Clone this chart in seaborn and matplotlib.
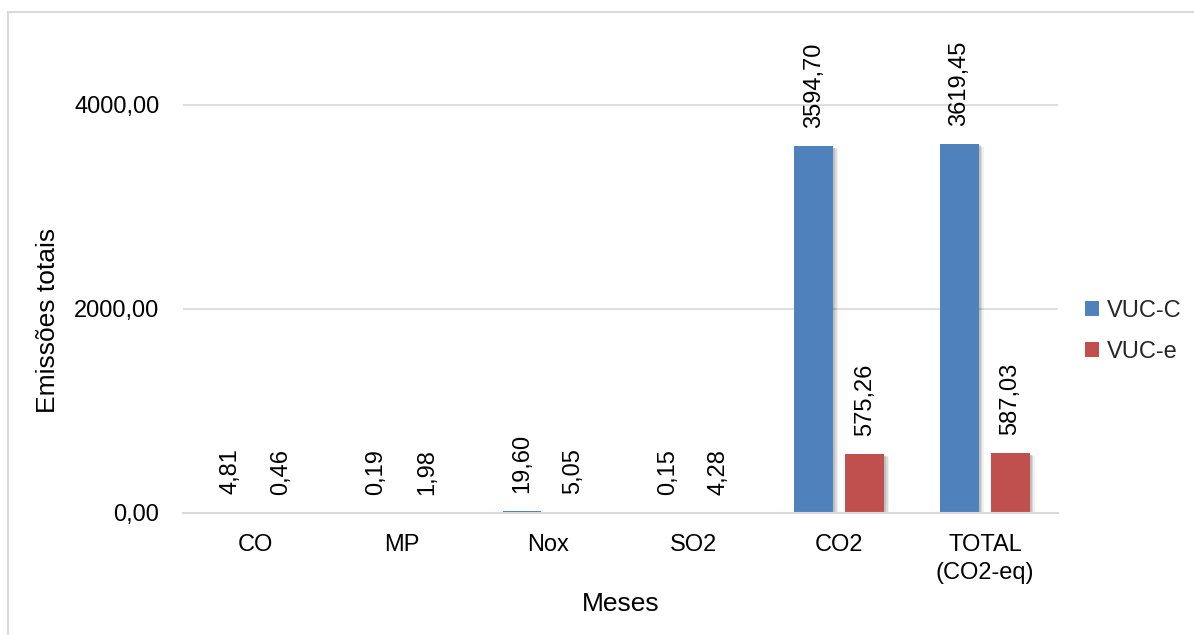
import matplotlib
matplotlib.use("Agg")
import matplotlib.pyplot as plt
import matplotlib.patheffects as pe
from matplotlib.patches import Rectangle
import seaborn as sns
import pandas as pd

categories = ["CO", "MP", "Nox", "SO2", "CO2", "TOTAL\n(CO2-eq)"]
series_names = ["VUC-C", "VUC-e"]
vuc_c = [4.81, 0.19, 19.60, 0.15, 3594.70, 3619.45]
vuc_e = [0.46, 1.98, 5.05, 4.28, 575.26, 587.03]
y_ticks = [0, 2000, 4000]
colors = ["#4F81BD", "#C0504D"]

df = pd.DataFrame({
    "Categoria": categories * 2,
    "Série": [series_names[0]] * len(categories) + [series_names[1]] * len(categories),
    "Valor": vuc_c + vuc_e,
})

sns.set_theme(style="white")
plt.rcParams["font.family"] = ["Liberation Sans", "DejaVu Sans"]

fig = plt.figure(figsize=(11.94, 6.35), dpi=100)
ax = fig.add_axes([183 / 1194, 1 - 513 / 635, 875 / 1194, 459 / 635])

sns.barplot(data=df, x="Categoria", y="Valor", hue="Série", order=categories,
            hue_order=series_names, palette=colors, width=0.7, gap=0.24,
            saturation=1, ax=ax, edgecolor="none", linewidth=0)

shadow = [pe.SimplePatchShadow(offset=(1.5, -1), shadow_rgbFace="black", alpha=0.12),
          pe.SimplePatchShadow(offset=(2.5, -1.5), shadow_rgbFace="black", alpha=0.09),
          pe.SimplePatchShadow(offset=(3.5, -2), shadow_rgbFace="black", alpha=0.06),
          pe.Normal()]
for cont, vals in zip(ax.containers, [vuc_c, vuc_e]):
    for p in cont.patches:
        p.set_path_effects(shadow)
    ax.bar_label(cont, labels=[f"{v:.2f}".replace(".", ",") for v in vals],
                 rotation=90, padding=13, fontsize=17, color="black", clip_on=False)

ax.set_xlim(-0.5, 5.5)
ax.set_ylim(0, 4500)
ax.set_yticks(y_ticks)
ax.set_yticklabels([f"{v:.2f}".replace(".", ",") for v in y_ticks])
ax.yaxis.grid(True, color="#d9d9d9", linewidth=1.2)
ax.set_axisbelow(True)
for s in ["top", "right", "left"]:
    ax.spines[s].set_visible(False)
ax.spines["bottom"].set_color("#d9d9d9")
ax.spines["bottom"].set_linewidth(1.5)
ax.tick_params(axis="y", length=0, pad=17, labelsize=17, labelcolor="black")
ax.tick_params(axis="x", length=0, pad=15, labelsize=17, labelcolor="black")
for t in ax.get_xticklabels():
    t.set_linespacing(1.35)

ax.set_xlabel("Meses", fontsize=19, color="black", labelpad=6)
ax.set_ylabel("Emissões totais", fontsize=19, color="black")
ax.yaxis.set_label_coords(-0.14, 0.42)

ax.legend(loc="center left", bbox_to_anchor=(1.02, 0.395),
          bbox_transform=ax.transAxes, frameon=False, fontsize=17,
          handlelength=0.6, handleheight=0.6, handletextpad=0.35,
          labelspacing=0.8, borderaxespad=0)

fig.add_artist(Rectangle((8 / 1194, -0.1), 1.2, 1.1 - 12 / 635,
                         transform=fig.transFigure, fill=False,
                         edgecolor="#d9d9d9", linewidth=1.5, clip_on=False))

fig.savefig("out.png", dpi=100, facecolor="white")
